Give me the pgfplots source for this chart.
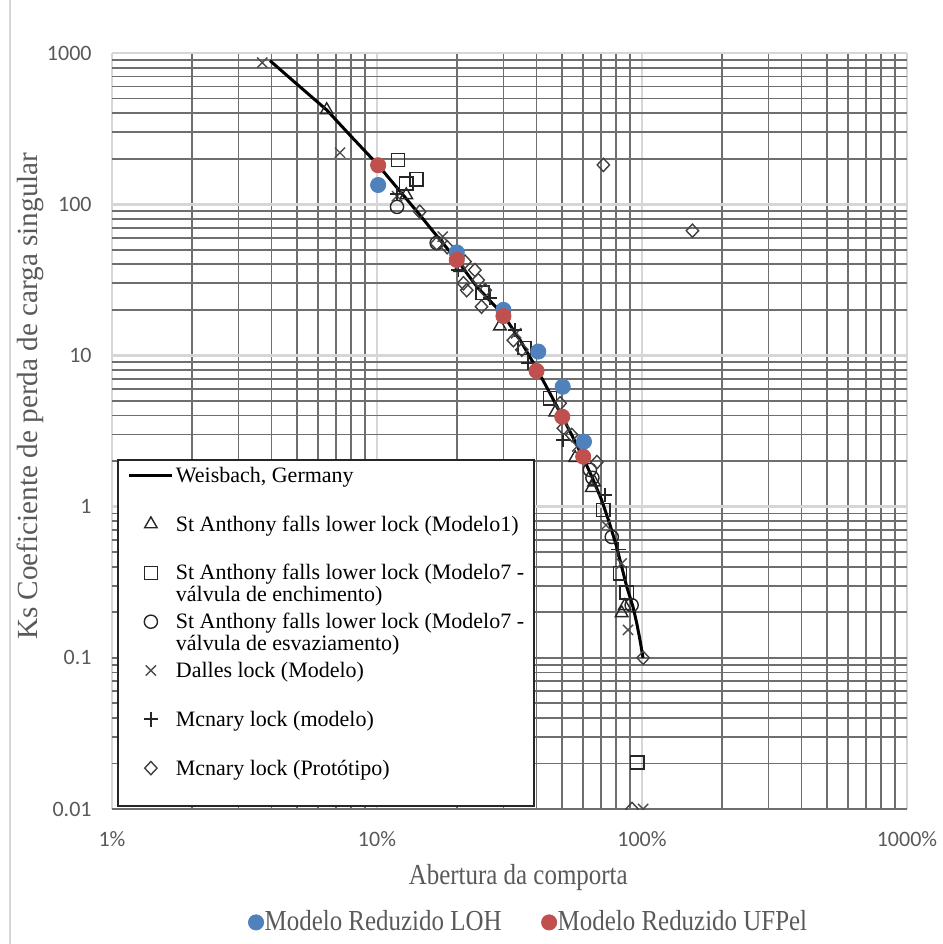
\documentclass[border=0pt]{standalone}
\usepackage{fontspec}
\setmainfont{Liberation Serif}
\newfontfamily\tickfont{Carlito}
\newfontfamily\condfont[FakeStretch=0.86]{Liberation Serif}
\usepackage{pgfplots}
\pgfplotsset{compat=1.18}

\definecolor{txtgray}{HTML}{595959}
\definecolor{majgrid}{HTML}{D6D6D6}
\definecolor{mingrid}{HTML}{6E6E6E}
\definecolor{loh}{HTML}{4F81BD}
\definecolor{ufpel}{HTML}{C0504D}

\tikzset{openmk/.style={only marks, draw=black!85, line width=0.7pt, mark size=3.3pt}}

\begin{document}
\begin{tikzpicture}
\begin{axis}[
  scale only axis, width=397.5pt, height=378pt,
  xmode=log, ymode=log,
  xmin=1, xmax=1000, ymin=0.01, ymax=1000,
  clip marker paths=true,
  xtick={1,10,100,1000}, xticklabels={1\%,10\%,100\%,1000\%},
  ytick={0.01,0.1,1,10,100,1000}, yticklabels={0.01,0.1,1,10,100,1000},
  extra y ticks={0.01,0.1}, extra y tick labels={},
  extra y tick style={grid=major, major grid style={draw=mingrid, line width=0.9pt}},
  grid=both,
  major grid style={draw=majgrid, line width=1.3pt},
  minor grid style={draw=mingrid, line width=0.9pt},
  major tick length=0pt, minor tick length=0pt,
  axis line style={draw=none},
  tick label style={font=\tickfont\fontsize{11}{13}\selectfont, text=txtgray},
  yticklabel style={inner sep=0pt}, yticklabel shift=10pt,
  xticklabel style={inner sep=0pt}, xticklabel shift=11pt,
  xlabel={Abertura da comporta},
  ylabel={Ks Coeficiente de perda de carga singular},
  xlabel style={at={(rel axis cs:0.511,-0.0913)}, anchor=center,
    font=\condfont\fontsize{14.5}{16}\selectfont, text=txtgray},
  ylabel style={at={(rel axis cs:-0.103,0.546)}, anchor=center,
    font=\fontsize{14.6}{16}\selectfont, text=txtgray},
  legend style={at={(rel axis cs:0,0)}, anchor=south west, xshift=2.5pt, yshift=1pt,
    draw=black!85, line width=0.9pt, fill=white,
    inner xsep=5pt, inner ysep=3.5pt, row sep=4.9pt,
    font=\fontsize{11}{10.9}\selectfont,
    nodes={inner sep=0pt, text height=7.5pt, text depth=12pt},
    /tikz/every odd column/.append style={column sep=1pt}},
  legend cell align=left,
  legend image code/.code={\draw[mark repeat=2, mark phase=2]
    plot coordinates {(0pt,5.75pt) (10.75pt,5.75pt) (21.5pt,5.75pt)};},
]
\coordinate (LL) at (rel axis cs:0,0);

% Weisbach curve
\addplot[black, line width=1.5pt, mark=none] coordinates {
  (3.95,889) (5,620) (6.46,420) (8,280) (9.97,186) (12.4,118) (14.5,85)
  (17.3,58) (20,43) (23.8,28.5) (27,22.5) (30,18.5) (35,12.3) (40,8.2)
  (45,5.6) (50,3.95) (55,2.85) (60,2.1) (65,1.55) (70.5,1.1) (75,0.8)
  (80.3,0.54) (87.6,0.295) (92.5,0.217) (95.5,0.17) (98.3,0.131) (100.9,0.1)
};
\addlegendentry{Weisbach, Germany}

\addplot[openmk, mark=triangle, mark size=3.6pt] coordinates {
  (6.46,420) (12.9,115) (20.6,38) (29.1,15.6) (47,4.2) (55.9,2.1)
  (64.6,1.33) (66,1.45) (83.8,0.198) (86,0.22)
};
\addlegendentry{St Anthony falls lower lock (Modelo1)}

\addplot[openmk, mark=square] coordinates {
  (12.0,196) (12.9,137) (14.1,146) (25,26) (36,11.2) (45,5.2)
  (71.5,0.95) (82.6,0.362) (87.6,0.27) (96,0.0203)
};
\addlegendentry{\smash{\begin{tabular}[t]{@{}l@{}}St Anthony falls lower lock (Modelo7 -\\válvula de enchimento)\end{tabular}}}

\addplot[openmk, mark=o] coordinates {
  (11.9,96) (16.8,55.4) (63.6,1.75) (65,1.55) (76.9,0.63) (91.4,0.223)
};
\addlegendentry{\smash{\begin{tabular}[t]{@{}l@{}}St Anthony falls lower lock (Modelo7 -\\válvula de esvaziamento)\end{tabular}}}

\addplot[openmk, mark=x, mark size=3.6pt, draw=black!70] coordinates {
  (3.69,863) (7.25,219) (11.9,113) (17.7,61) (33.5,14) (57,2.5)
  (73.1,0.755) (83.8,0.42) (88.6,0.153) (101,0.01)
};
\addlegendentry{Dalles lock (Modelo)}

\addplot[openmk, mark=+, mark size=3.6pt, line width=0.9pt] coordinates {
  (11.9,117) (20.3,36.7) (26.7,23.9) (33.2,14.7) (37.2,8.9) (50.5,2.76)
  (72.5,1.19) (81.4,0.52)
};
\addlegendentry{Mcnary lock (modelo)}

\addplot[openmk, mark=diamond, mark size=3.3pt, mark options={xscale=1.25}, draw=black!75] coordinates {
  (14.5,89.2) (16.8,55) (18.4,52) (20.2,44) (21.5,41.7) (23.4,36.7)
  (24.1,31.5) (21.2,30) (21.8,27) (25.6,27) (24.8,21) (32.7,12.6)
  (35.2,10.9) (49.1,4.82) (50.5,3.3) (54.3,2.98) (67.6,1.97)
  (71.5,182) (155,66.8) (101,0.1) (91.7,0.01)
};
\addlegendentry{Mcnary lock (Protótipo)}
\end{axis}

\begin{axis}[
  scale only axis, width=397.5pt, height=378pt,
  xmode=log, ymode=log,
  xmin=1, xmax=1000, ymin=0.01, ymax=1000,
  hide axis,
  legend style={at={(rel axis cs:0.523,-0.150)}, anchor=center,
    draw=none, fill=none, legend columns=2,
    font=\condfont\fontsize{14.5}{16}\selectfont, text=txtgray,
    inner sep=0pt, nodes={inner sep=0pt},
    /tikz/every odd column/.append style={column sep=0.5pt},
    /tikz/every even column/.append style={column sep=20pt}},
  legend image code/.code={\draw plot coordinates {(0pt,0pt)};},
]
\addplot[only marks, mark=*, mark size=3.8pt, color=loh] coordinates {
  (10.1,134) (20,48) (30,20) (40.6,10.6) (50.2,6.2) (60.4,2.69)
};
\addlegendentry{Modelo Reduzido LOH}
\addplot[only marks, mark=*, mark size=3.8pt, color=ufpel] coordinates {
  (10.1,181) (20,42.8) (30,18.2) (40,7.9) (50,3.93) (60,2.14)
};
\addlegendentry{Modelo Reduzido UFPel}
\end{axis}

\draw[majgrid, line width=1pt] (LL) ++(-51pt,-67.5pt) -- ++(0,472pt);
\pgfresetboundingbox
\path[use as bounding box] (LL) ++(-56pt,-67.5pt) rectangle ++(471.5pt,472pt);
\end{tikzpicture}
\end{document}
